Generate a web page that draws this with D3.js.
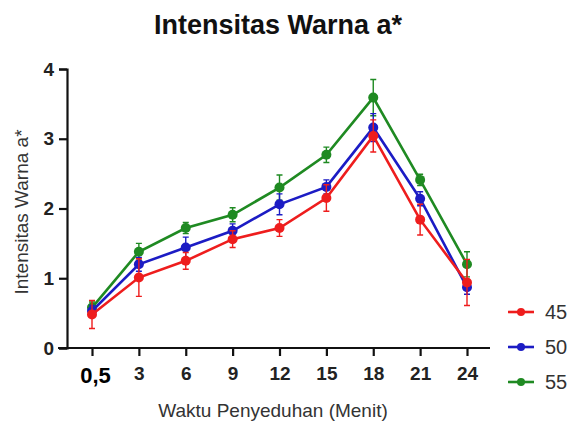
<!DOCTYPE html>
<html>
<head>
<meta charset="utf-8">
<script src="https://cdn.jsdelivr.net/npm/d3@7"></script>
<style>
  body { margin: 0; background: #fff; }
  svg { font-family: "Liberation Sans", Arial, sans-serif; }
</style>
</head>
<body>
<svg id="vis" width="579" height="423"></svg>
<script>
// categories (brewing time, minutes)
var times = ["0,5", "3", "6", "9", "12", "15", "18", "21", "24"];
var seriesNames = ["45", "50", "55"];

// mean a* values per series
var mean45 = [0.48, 1.01, 1.25, 1.56, 1.72, 2.15, 3.04, 1.84, 0.94];
var mean50 = [0.53, 1.20, 1.44, 1.68, 2.06, 2.31, 3.16, 2.14, 0.87];
var mean55 = [0.58, 1.38, 1.72, 1.91, 2.30, 2.77, 3.59, 2.41, 1.20];

// error (sd) per series
var err45 = [0.20, 0.27, 0.12, 0.12, 0.12, 0.19, 0.23, 0.22, 0.33];
var err50 = [0.08, 0.10, 0.15, 0.10, 0.15, 0.10, 0.20, 0.10, 0.10];
var err55 = [0.08, 0.12, 0.08, 0.10, 0.18, 0.11, 0.26, 0.08, 0.18];

var yTicks = [0, 1, 2, 3, 4];
var colors = { "45": "#ee1d1d", "50": "#1c1cc4", "55": "#1f8a22" };

var svg = d3.select("#vis");

var x = d3.scalePoint().domain(times).range([92, 467]);
var y = d3.scaleLinear().domain([0, 4]).range([348, 69]);

// title
svg.append("text")
  .attr("x", 278).attr("y", 34)
  .attr("text-anchor", "middle")
  .attr("font-weight", "bold")
  .attr("font-size", 27)
  .attr("fill", "#111")
  .text("Intensitas Warna a*");

// y axis
var yAxis = svg.append("g")
  .attr("transform", "translate(67,0)")
  .call(d3.axisLeft(y).tickValues(yTicks).tickFormat(d3.format("d")).tickSize(8).tickPadding(5));
yAxis.select(".domain").attr("stroke", "#111").attr("stroke-width", 2.2);
yAxis.selectAll(".tick line").attr("stroke", "#111").attr("stroke-width", 2.2);
yAxis.selectAll(".tick text")
  .attr("font-size", 19).attr("font-weight", "bold").attr("fill", "#222")
  .attr("font-family", "Liberation Sans, Arial, sans-serif");

// x axis
var xAxis = svg.append("g")
  .attr("transform", "translate(0,348)")
  .call(d3.axisBottom(x).tickSize(8).tickPadding(11).tickSizeOuter(0));
xAxis.select(".domain").attr("d", "M" + 58 + ",0H490").attr("stroke", "#111").attr("stroke-width", 2.2);
xAxis.selectAll(".tick line").attr("stroke", "#111").attr("stroke-width", 2.2);
xAxis.selectAll(".tick text")
  .attr("font-size", 19).attr("font-weight", "bold").attr("fill", "#222")
  .attr("font-family", "Liberation Sans, Arial, sans-serif");
xAxis.selectAll(".tick text").filter(function(d) { return d === "0,5"; })
  .attr("font-size", 22).attr("fill", "#000").attr("dx", 3);

// axis labels
svg.append("text")
  .attr("transform", "translate(28,212) rotate(-90)")
  .attr("text-anchor", "middle")
  .attr("font-size", 19)
  .attr("fill", "#333")
  .text("Intensitas Warna a*");

svg.append("text")
  .attr("x", 273).attr("y", 417)
  .attr("text-anchor", "middle")
  .attr("font-size", 19)
  .attr("fill", "#333")
  .text("Waktu Penyeduhan (Menit)");

// series, drawn 55 first so 45 sits on top
var series = [
  { name: "55", mean: mean55, err: err55 },
  { name: "50", mean: mean50, err: err50 },
  { name: "45", mean: mean45, err: err45 }
];

var line = d3.line()
  .x(function(d) { return x(d.t); })
  .y(function(d) { return y(d.v); });

series.forEach(function(s) {
  var pts = times.map(function(t, i) { return { t: t, v: s.mean[i], e: s.err[i] }; });
  var g = svg.append("g");
  var c = colors[s.name];

  // error bars
  g.selectAll("path.err")
    .data(pts)
    .enter()
    .append("path")
    .attr("class", "err")
    .attr("fill", "none")
    .attr("stroke", c)
    .attr("stroke-width", 1.4)
    .attr("d", function(d) {
      var cx = x(d.t), y1 = y(d.v + d.e), y2 = y(d.v - d.e);
      return "M" + (cx - 3) + "," + y1 + "H" + (cx + 3) +
        "M" + cx + "," + y1 + "V" + y2 +
        "M" + (cx - 3) + "," + y2 + "H" + (cx + 3);
    });

  g.append("path")
    .datum(pts)
    .attr("fill", "none")
    .attr("stroke", c)
    .attr("stroke-width", 2.6)
    .attr("d", line);

  g.selectAll("circle")
    .data(pts)
    .enter()
    .append("circle")
    .attr("cx", function(d) { return x(d.t); })
    .attr("cy", function(d) { return y(d.v); })
    .attr("r", 5)
    .attr("fill", c);
});

// legend
var legend = svg.append("g");
seriesNames.forEach(function(n, i) {
  var ly = 312 + i * 35;
  legend.append("line")
    .attr("x1", 508).attr("x2", 534)
    .attr("y1", ly).attr("y2", ly)
    .attr("stroke", colors[n]).attr("stroke-width", 2.6);
  legend.append("circle")
    .attr("cx", 521).attr("cy", ly).attr("r", 4)
    .attr("fill", colors[n]);
  legend.append("text")
    .attr("x", 545).attr("y", ly + 7)
    .attr("font-size", 20)
    .attr("fill", "#333")
    .text(n);
});
</script>
</body>
</html>
